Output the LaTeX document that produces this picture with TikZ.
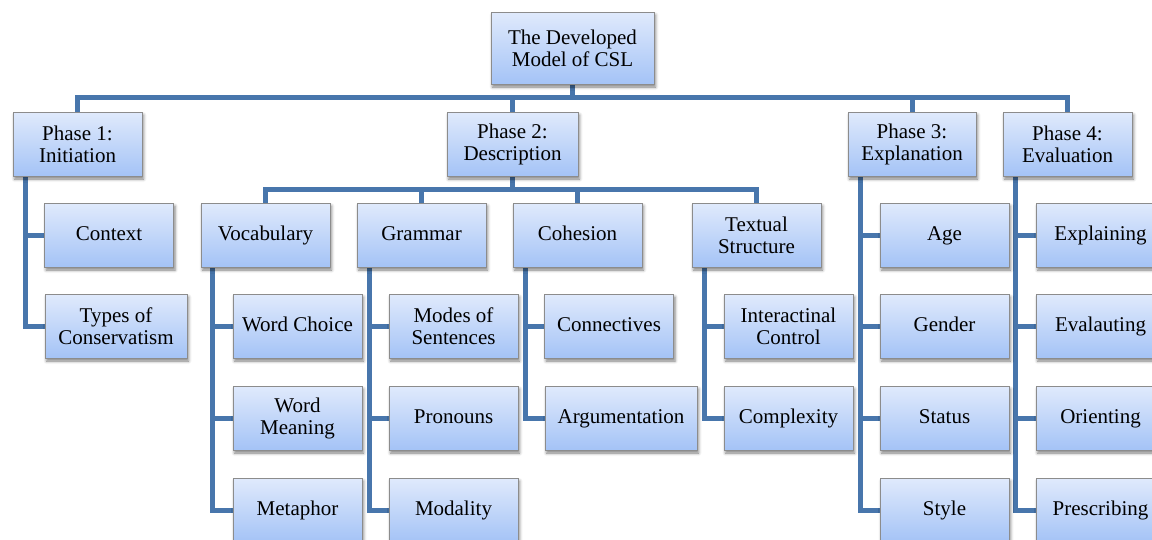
\documentclass[tikz,border=0pt]{standalone}
\usepackage{fontspec}
\setmainfont{Liberation Serif}
\usetikzlibrary{shadows.blur,calc}
\definecolor{linec}{RGB}{72,118,172}
\definecolor{boxtop}{RGB}{224,234,252}
\definecolor{boxbot}{RGB}{164,195,246}
\definecolor{boxline}{RGB}{140,140,140}
\pgfdeclarelayer{bg}
\pgfsetlayers{bg,main}
\begin{document}
\begin{tikzpicture}[x=1pt,y=-1pt,
  box/.style={draw=boxline, line width=0.8pt, top color=boxtop, bottom color=boxbot,
    minimum height=64pt, minimum width=129pt, inner sep=2pt, align=center,
    font=\fontsize{21}{22}\selectfont,
    blur shadow={shadow xshift=1.5pt, shadow yshift=-3pt, shadow blur radius=3pt, shadow opacity=50}},
  one/.style={text height=14pt, text depth=3pt},
  conn/.style={draw=linec, line width=5pt}]
\useasboundingbox (0,0) rectangle (1152,539);
% level 0
\node[box, minimum width=163pt, minimum height=72pt] (root) at (572.5,48) {The Developed\\Model of CSL};
% level 1
\node[box] (p1) at (77.5,144) {Phase 1:\\Initiation};
\node[box, minimum width=131pt] (p2) at (512.5,144) {Phase 2:\\Description};
\node[box, minimum width=128pt] (p3) at (912,144) {Phase 3:\\Explanation};
\node[box] (p4) at (1067.5,144) {Phase 4:\\Evaluation};
% row 2
\node[box, one] (ctx) at (109,235) {Context};
\node[box, one] (voc) at (265.5,235) {Vocabulary};
\node[box, one] (gra) at (421.5,235) {Grammar};
\node[box, one] (coh) at (577.5,235) {Cohesion};
\node[box] (tex) at (756.5,235) {Textual\\Structure};
\node[box, one] (age) at (944.5,235) {Age};
\node[box, one] (exp) at (1100.5,235) {Explaining};
% row 3
\node[box, minimum width=142pt] (typ) at (116,326) {Types of\\Conservatism};
\node[box, one] (wch) at (297.5,326) {Word Choice};
\node[box] (mos) at (453.5,326) {Modes of\\Sentences};
\node[box, one] (con) at (609,326) {Connectives};
\node[box] (int) at (788.5,326) {Interactinal\\Control};
\node[box, one] (gen) at (944.5,326) {Gender};
\node[box, one] (eva) at (1100.5,326) {Evalauting};
% row 4
\node[box] (wme) at (297.5,418) {Word\\Meaning};
\node[box, one] (pro) at (453.5,418) {Pronouns};
\node[box, one, minimum width=152pt] (arg) at (621,418) {Argumentation};
\node[box, one] (com) at (788.5,418) {Complexity};
\node[box, one] (sta) at (944.5,418) {Status};
\node[box, one] (ori) at (1100.5,418) {Orienting};
% row 5
\node[box, one] (met) at (297.5,510) {Metaphor};
\node[box, one] (mdl) at (453.5,510) {Modality};
\node[box, one] (sty) at (944.5,510) {Style};
\node[box, one] (pre) at (1100.5,510) {Prescribing};
\begin{pgfonlayer}{bg}
  \foreach \c in {p1,p2,p3,p4} \draw[conn] (root.south) -- ++(0,13) -| (\c.north);
  \foreach \c in {voc,gra,coh,tex} \draw[conn] (p2.south) -- ++(0,13) -| (\c.north);
  \foreach \c in {ctx,typ} \draw[conn] ([xshift=13pt]p1.south west) |- (\c.west);
  \foreach \c in {wch,wme,met} \draw[conn] ([xshift=12pt]voc.south west) |- (\c.west);
  \foreach \c in {mos,pro,mdl} \draw[conn] ([xshift=13pt]gra.south west) |- (\c.west);
  \foreach \c in {con,arg} \draw[conn] ([xshift=13pt]coh.south west) |- (\c.west);
  \foreach \c in {int,com} \draw[conn] ([xshift=13pt]tex.south west) |- (\c.west);
  \foreach \c in {age,gen,sta,sty} \draw[conn] ([xshift=13pt]p3.south west) |- (\c.west);
  \foreach \c in {exp,eva,ori,pre} \draw[conn] ([xshift=13pt]p4.south west) |- (\c.west);
\end{pgfonlayer}
\end{tikzpicture}
\end{document}
